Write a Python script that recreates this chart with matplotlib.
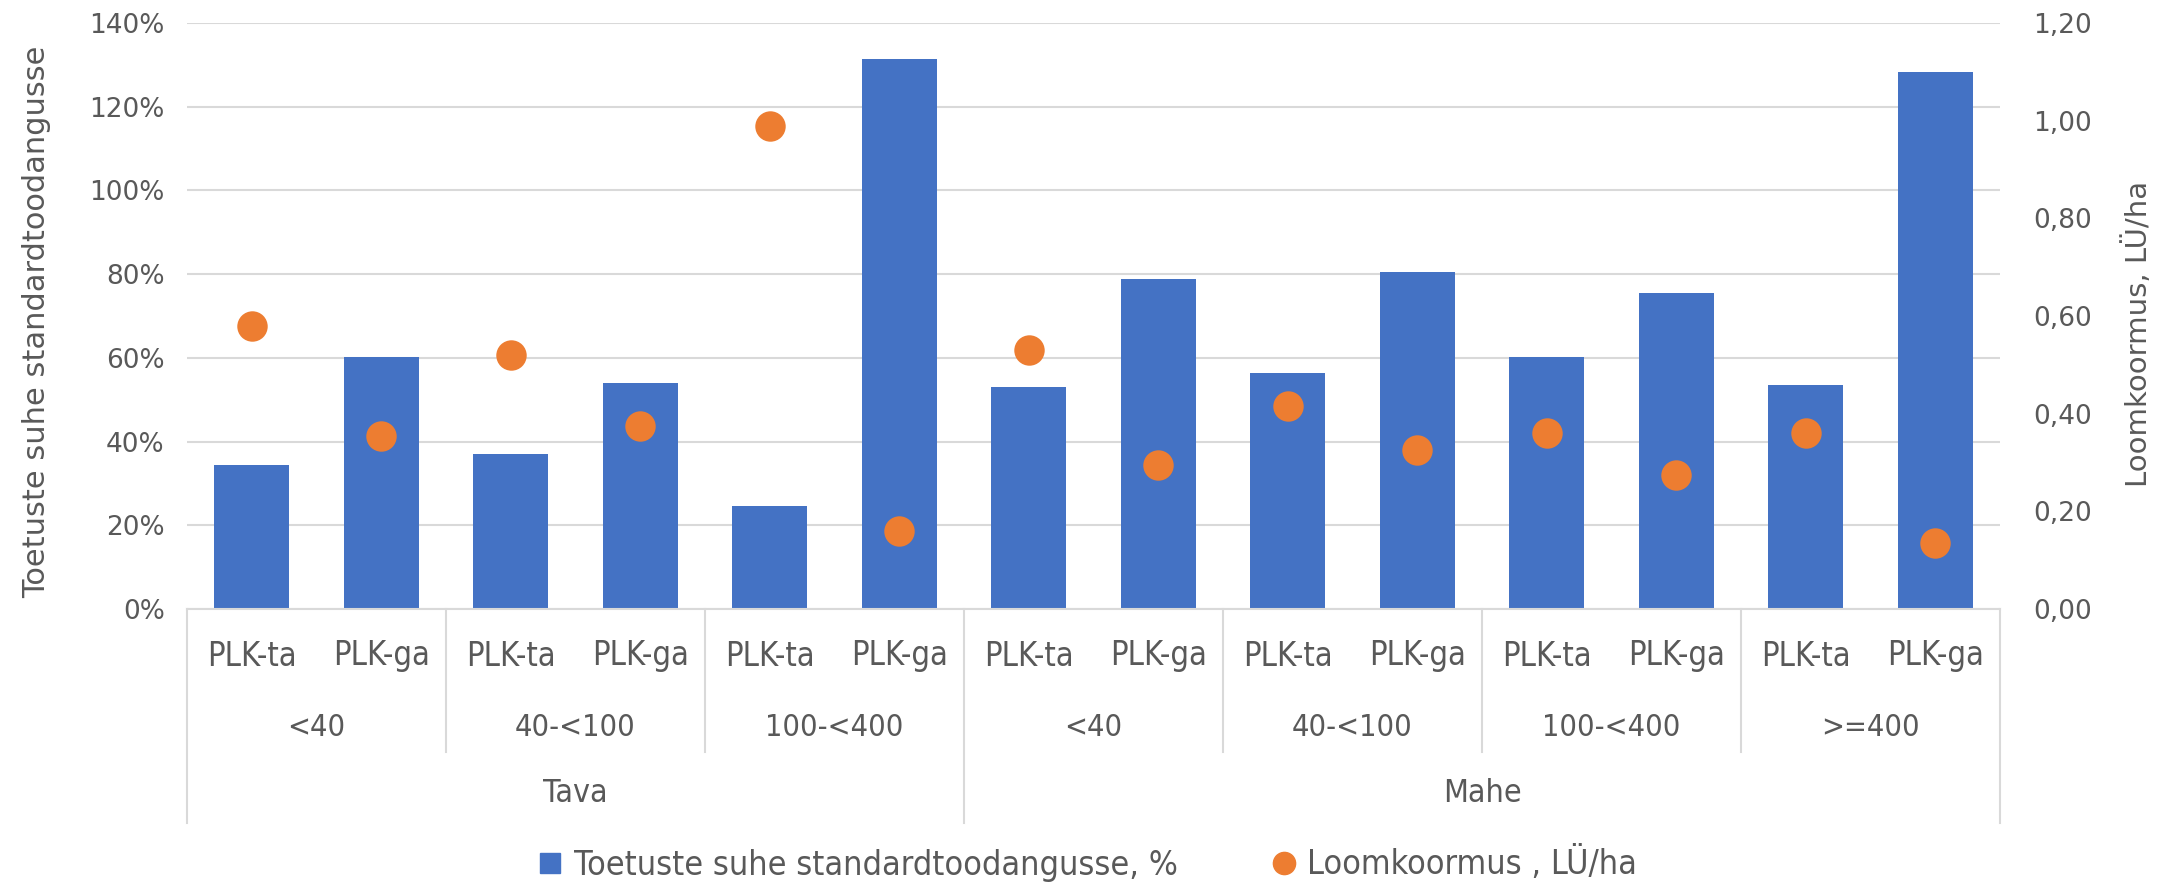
import matplotlib.pyplot as plt
import matplotlib.transforms as mtransforms
from matplotlib.lines import Line2D

# Data
farm_types = ["Tava", "Mahe"]
size_groups = [["<40", "40-<100", "100-<400"],
               ["<40", "40-<100", "100-<400", ">=400"]]
sub_labels = ["PLK-ta", "PLK-ga"]

support_ratio = [34.4, 60.2, 37.1, 54.0, 24.5, 131.4,
                 53.0, 78.8, 56.3, 80.4, 60.2, 75.5, 53.6, 128.4]
livestock_density = [0.58, 0.355, 0.52, 0.375, 0.99, 0.16,
                     0.53, 0.295, 0.415, 0.325, 0.36, 0.275, 0.36, 0.135]

BLUE = "#4472C4"
ORANGE = "#ED7D31"
TEXT = "#595959"
GRID = "#D9D9D9"

plt.rcParams['font.family'] = ['DejaVu Sans']
narrow = dict(family='DejaVu Sans', stretch='condensed')

fig = plt.figure(figsize=(21.7, 8.86), dpi=100)
ax = fig.add_axes([187 / 2170, 1 - 609 / 886, (2000 - 187) / 2170, (609 - 23) / 886])
ax2 = ax.twinx()

n = len(support_ratio)
x = list(range(n))
ax.bar(x, support_ratio, width=0.58, color=BLUE, zorder=2)
ax2.scatter(x, livestock_density, s=480, color=ORANGE, zorder=3, linewidths=0)

ax.set_xlim(-0.5, n - 0.5)
ax.set_ylim(0, 140)
ax2.set_ylim(0, 1.2)
ax.set_yticks(range(0, 141, 20))
ax.set_yticklabels([f"{v}%" for v in range(0, 141, 20)])
ax2.set_yticks([i * 0.2 for i in range(7)])
ax2.set_yticklabels([f"{i * 0.2:.2f}".replace(".", ",") for i in range(7)])
ax.grid(axis='y', color=GRID, linewidth=1.5, zorder=0)
ax.set_axisbelow(True)
ax.set_xticks([])

for a in (ax, ax2):
    for s in a.spines.values():
        s.set_visible(False)
    a.tick_params(length=0, labelsize=19, labelcolor=TEXT)
ax.tick_params(pad=16)
ax2.tick_params(pad=24)
ax.spines['bottom'].set_visible(True)
ax.spines['bottom'].set_color(GRID)
ax.spines['bottom'].set_linewidth(1.5)

ax.set_ylabel("Toetuste suhe standardtoodangusse", fontsize=22, color=TEXT)
ax.yaxis.set_label_coords(-0.075, 0.49)
ax2.set_ylabel("Loomkoormus, LÜ/ha", fontsize=21, color=TEXT)
ax2.yaxis.set_label_coords(1.068, 0.47)

# multi-level category axis
tr = mtransforms.blended_transform_factory(ax.transData, fig.transFigure)
def fy(py):
    return 1 - py / 886

for i in x:
    ax.text(i, fy(656), sub_labels[i % 2], transform=tr, ha='center', va='center',
            fontsize=23.5, color=TEXT, **narrow)

pos = 0
bounds_outer = [-0.5]
bounds_inner = []
for t, groups in zip(farm_types, size_groups):
    start = pos
    for j, g in enumerate(groups):
        ax.text(pos + 0.5, fy(728), g, transform=tr, ha='center', va='center',
                fontsize=22, color=TEXT, **narrow)
        pos += 2
        if j < len(groups) - 1:
            bounds_inner.append(pos - 0.5)
    ax.text((start + pos - 1) / 2, fy(793), t, transform=tr, ha='center', va='center',
            fontsize=23, color=TEXT, **narrow)
    bounds_outer.append(pos - 0.5)

for b in bounds_outer:
    ax.plot([b, b], [fy(609), fy(823)], transform=tr, color=GRID, lw=1.5, clip_on=False)
for b in bounds_inner:
    ax.plot([b, b], [fy(609), fy(752)], transform=tr, color=GRID, lw=1.5, clip_on=False)

handles = [
    Line2D([], [], marker='s', linestyle='none', color=BLUE, markersize=14),
    Line2D([], [], marker='o', linestyle='none', color=ORANGE, markersize=16),
]
fig.legend(handles, ["Toetuste suhe standardtoodangusse, %", "Loomkoormus , LÜ/ha"],
           loc='center', bbox_to_anchor=(1087 / 2170, fy(864)), ncol=2, frameon=False,
           prop={'family': 'DejaVu Sans', 'stretch': 'condensed', 'size': 24.5},
           labelcolor=TEXT, handletextpad=0.3, columnspacing=2.7, handlelength=0.8)

fig.savefig("out.png", dpi=100)
